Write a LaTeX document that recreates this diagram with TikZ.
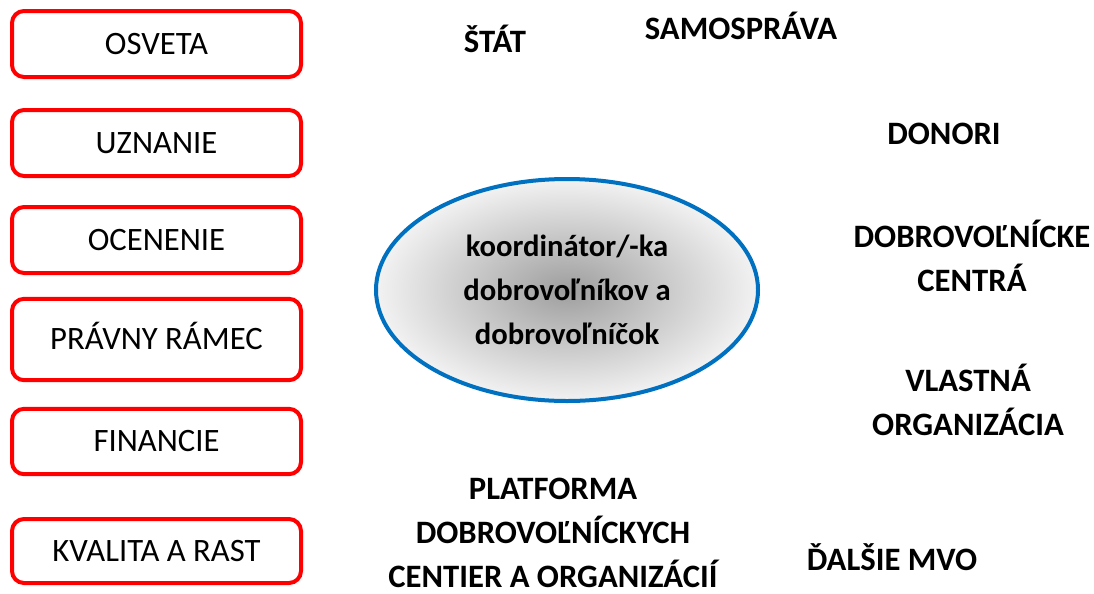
\documentclass[tikz,border=0pt]{standalone}
\usepackage{fontspec}
\setmainfont{Carlito}
\usetikzlibrary{shapes.geometric}
\definecolor{boxred}{RGB}{255,0,0}
\definecolor{ringblue}{RGB}{0,112,192}
\begin{document}
\begin{tikzpicture}[x=0.75pt,y=-0.75pt,
  area/.style={draw=boxred,line width=3pt,rounded corners=9pt,minimum width=216.75pt,
    text height=15.5pt,text depth=0pt,font=\fontsize{24.5}{33}\selectfont},
  actor/.style={anchor=base,align=center,inner sep=0pt,font=\fontsize{24.5}{33}\selectfont\bfseries}]
\useasboundingbox (0,0) rectangle (1094,593);

% left column
\node[area,minimum height=49.5pt] (osveta) at (156.5,44) {OSVETA};
\node[area,minimum height=49.5pt] (uznanie) at (156.5,143) {UZNANIE};
\node[area,minimum height=49.5pt] (ocenenie) at (156.5,240) {OCENENIE};
\node[area,minimum height=61pt] (ramec) at (156.5,339.5) {PRÁVNY RÁMEC};
\node[area,minimum height=49pt] (financie) at (156.5,441.5) {FINANCIE};
\node[area,minimum height=48pt] (kvalita) at (156.5,551) {KVALITA A RAST};

% centre
\node[ellipse,draw=ringblue,line width=3pt,inner color=black!38,outer color=black!5,
  minimum width=286.5pt,minimum height=166.5pt,align=center,
  font=\fontsize{23}{33}\selectfont\bfseries] (koord) at (567,290)
  {koordinátor/-ka\\dobrovoľníkov a\\dobrovoľníčok};

% partners (base = last line)
\node[actor] (stat) at (495,52) {ŠTÁT};
\node[actor] (samosprava) at (741,39) {SAMOSPRÁVA};
\node[actor] (donori) at (944,144) {DONORI};
\node[actor] (centra) at (972,291) {DOBROVOĽNÍCKE\\CENTRÁ};
\node[actor] (vlastna) at (968,435) {VLASTNÁ\\ORGANIZÁCIA};
\node[actor] (platforma) at (553,587) {PLATFORMA\\DOBROVOĽNÍCKYCH\\CENTIER A ORGANIZÁCIÍ};
\node[actor] (mvo) at (892,570) {ĎALŠIE MVO};
\end{tikzpicture}
\end{document}
